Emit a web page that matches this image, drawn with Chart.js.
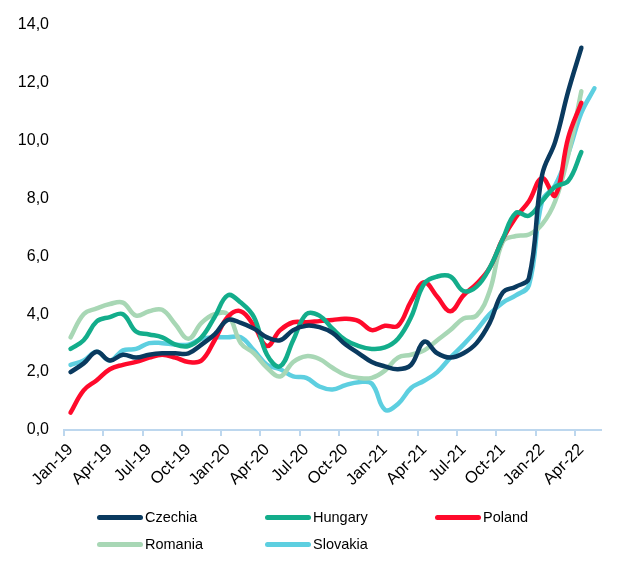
<!DOCTYPE html>
<html>
<head>
<meta charset="utf-8">
<script src="https://cdn.jsdelivr.net/npm/chart.js@4.4.0/dist/chart.umd.min.js"></script>
<style>
  html, body { margin: 0; padding: 0; background: #fff; }
  #wrap { position: relative; width: 635px; height: 567px; }
  #legend { position: absolute; left: 0; top: 0; width: 635px; height: 567px; pointer-events: none;
            font-family: 'Liberation Sans', Arial, sans-serif; font-size: 14.5px; color: #000; }
  .item { position: absolute; height: 20px; line-height: 20px; white-space: nowrap; }
  .item span.line { display: inline-block; width: 46px; height: 5px; border-radius: 3px;
                    vertical-align: middle; margin-right: 2px; position: relative; top: -1px; }
</style>
</head>
<body>
<div id="wrap">
  <canvas id="chart" width="635" height="567"></canvas>
  <div id="legend"></div>
</div>
<script>
// months on the x axis (Jan-19 .. May-22)
var months = ['Jan-19','Feb-19','Mar-19','Apr-19','May-19','Jun-19','Jul-19','Aug-19','Sep-19','Oct-19','Nov-19','Dec-19',
              'Jan-20','Feb-20','Mar-20','Apr-20','May-20','Jun-20','Jul-20','Aug-20','Sep-20','Oct-20','Nov-20','Dec-20',
              'Jan-21','Feb-21','Mar-21','Apr-21','May-21','Jun-21','Jul-21','Aug-21','Sep-21','Oct-21','Nov-21','Dec-21',
              'Jan-22','Feb-22','Mar-22','Apr-22','May-22'];

var czechia = [2.0,2.3,2.7,2.4,2.6,2.5,2.6,2.65,2.65,2.65, 2.95,3.3,3.8,3.7,3.5,3.2,3.1,3.45,3.6,3.55,
               3.35,2.95,2.65,2.35,2.2,2.1,2.25,3.05,2.65,2.5, 2.65,3.0,3.7,4.75,4.95,5.25,8.8,9.95,11.7,13.2];
var hungary = [2.8,3.1,3.75,3.9,4.0,3.4,3.3,3.2,2.95,2.9, 3.2,3.9,4.65,4.4,3.9,2.6,2.2,3.1,4.0,3.95,
               3.5,3.1,2.9,2.8,2.85,3.15,3.9,5.05,5.3,5.3, 4.8,4.95,5.6,6.6,7.5,7.4,7.9,8.4,8.6,9.6];
var poland  = [0.6,1.37,1.72,2.1,2.25,2.35,2.5,2.6,2.5,2.35, 2.4,3.1,3.9,4.1,3.6,2.9,3.45,3.72,3.72,3.76,
               3.8,3.84,3.76,3.45,3.6,3.6,4.45,5.1,4.6,4.1, 4.65,5.05,5.6,6.6,7.35,7.9,8.7,8.1,10.1,11.3];
var romania = [3.2,4.0,4.2,4.35,4.4,3.95,4.1,4.15,3.65,3.15, 3.7,4.0,4.0,3.0,2.65,2.15,1.85,2.35,2.55,2.45,
               2.15,1.9,1.8,1.8,2.05,2.5,2.6,2.75,3.1,3.45, 3.85,3.95,4.8,6.5,6.7,6.75,7.1,7.9,9.5,11.7];
var slovakia = [2.25,2.4,2.7,2.4,2.75,2.8,3.0,3.0,2.95,2.95, 3.15,3.2,3.2,3.2,2.75,2.25,2.1,1.85,1.8,1.5,
                1.4,1.55,1.65,1.6,0.7,0.9,1.45,1.7,2.0,2.5, 2.95,3.45,4.0,4.4,4.65,5.0,7.9,8.45,9.55,10.95,11.8];

var yTicks = [0, 2, 4, 6, 8, 10, 12, 14];

var seriesNames = ['Czechia', 'Hungary', 'Poland', 'Romania', 'Slovakia'];
var seriesData = [czechia, hungary, poland, romania, slovakia];
var seriesColors = ['#0a3a5f', '#13ad8b', '#ff0a2b', '#a8d7b5', '#5dcfe0'];

var axisBlue = '#bdd7ee';
var font = "'Liberation Sans', Arial, sans-serif";

var datasets = seriesNames.map(function (name, i) {
    return {
        label: name,
        data: seriesData[i],
        borderColor: seriesColors[i],
        backgroundColor: seriesColors[i],
        borderWidth: 4.5,
        pointRadius: 0,
        tension: 0.4,
        borderCapStyle: 'round',
        borderJoinStyle: 'round',
        fill: false
    };
});

var chart = new Chart(document.getElementById('chart').getContext('2d'), {
    type: 'line',
    data: { labels: months, datasets: datasets },
    options: {
        responsive: false,
        animation: false,
        devicePixelRatio: 1,
        layout: { padding: { top: 22, right: 34, left: 0, bottom: 0 } },
        plugins: { legend: { display: false }, tooltip: { enabled: false } },
        scales: {
            x: {
                offset: true,
                border: { color: axisBlue, width: 2 },
                grid: {
                    offset: true,
                    drawOnChartArea: false,
                    tickLength: 6,
                    lineWidth: 2,
                    // tick marks only every third month
                    color: function (ctx) { return ctx.index % 3 === 0 ? axisBlue : 'rgba(0,0,0,0)'; }
                },
                ticks: {
                    autoSkip: false,
                    maxRotation: 45,
                    minRotation: 45,
                    padding: 4,
                    color: '#000',
                    font: { family: font, size: 16.5 },
                    callback: function (v, i) { return i % 3 === 0 ? months[i] : ''; }
                },
                afterFit: function (s) { s.height = 137; }
            },
            y: {
                min: 0,
                max: 14,
                border: { display: false },
                grid: { display: false, drawTicks: false },
                afterBuildTicks: function (s) { s.ticks = yTicks.map(function (v) { return { value: v }; }); },
                ticks: {
                    padding: 15,
                    color: '#000',
                    font: { family: font, size: 16 },
                    callback: function (v) { return v.toFixed(1).replace('.', ','); }
                },
                afterFit: function (s) { s.width = 64; }
            }
        }
    }
});

// legend in three columns, two rows, like the original
var legendPos = [[97, 507], [265, 507], [435, 507], [97, 534], [265, 534]];
var legendEl = document.getElementById('legend');
chart.data.datasets.forEach(function (ds, i) {
    var item = document.createElement('div');
    item.className = 'item';
    item.style.left = legendPos[i][0] + 'px';
    item.style.top = legendPos[i][1] + 'px';
    item.innerHTML = '<span class="line" style="background:' + ds.borderColor + '"></span>' + ds.label;
    legendEl.appendChild(item);
});
</script>
</body>
</html>
